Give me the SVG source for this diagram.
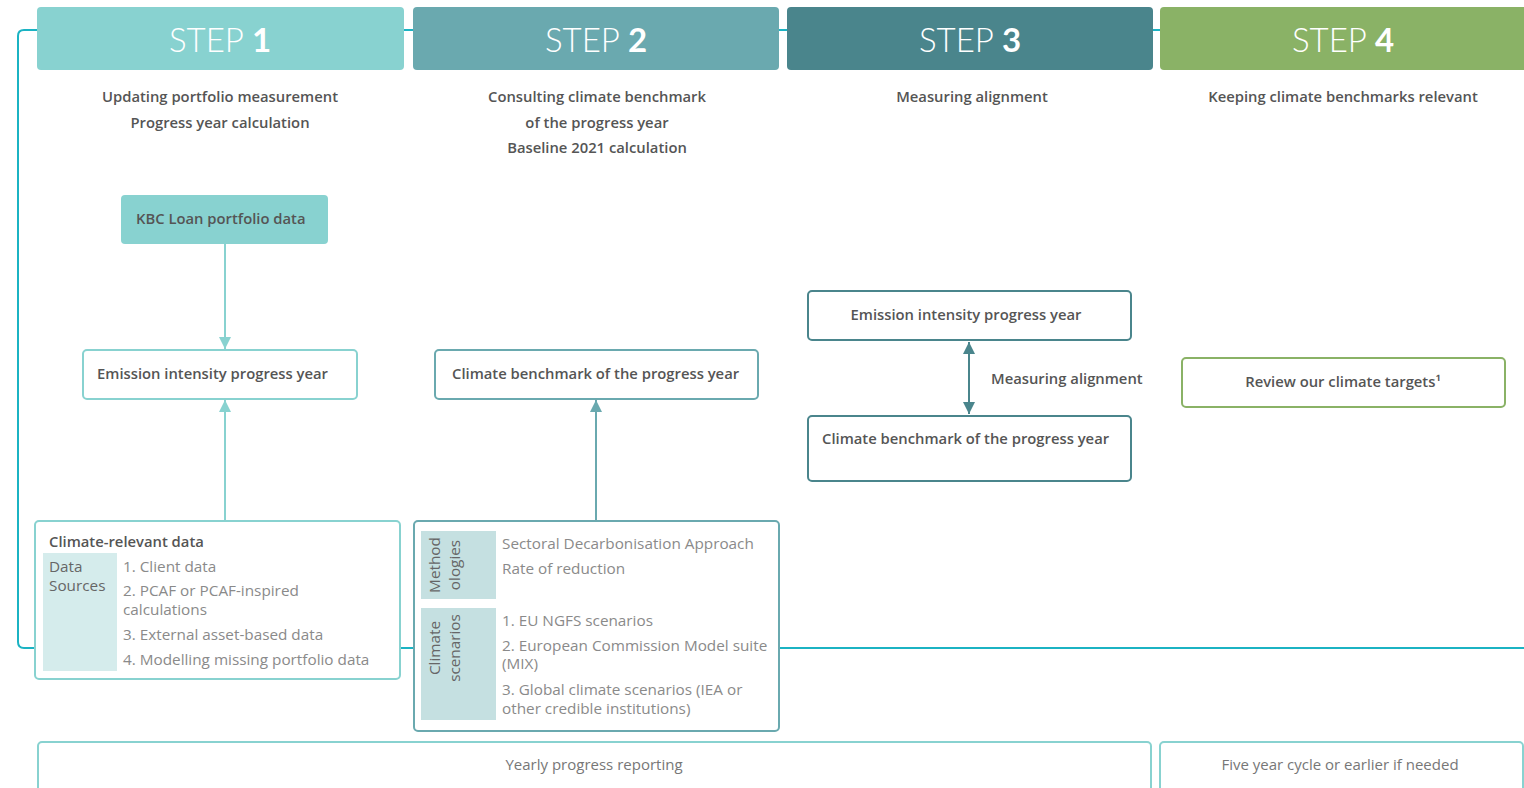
<svg xmlns="http://www.w3.org/2000/svg" width="1524" height="788" viewBox="0 0 1524 788">
<style>
.bg{fill:#ffffff}
.track{fill:none;stroke:#1BB3C3;stroke-width:2}
.hdr{font-family:Lato,"Open Sans",sans-serif;font-size:33px;fill:#ffffff;text-anchor:middle}
.hdr .l{font-weight:300}
.hdr .b{font-weight:700}
.sub{font-family:"Open Sans",Lato,sans-serif;font-size:14.8px;font-weight:600;fill:#555555;text-anchor:middle}
.lbl{font-family:"Open Sans",Lato,sans-serif;font-size:14.8px;font-weight:600;fill:#555555}
.item{font-family:"Open Sans",Lato,sans-serif;font-size:15.3px;font-weight:400;fill:#8a8a8a}
.side{font-family:"Open Sans",Lato,sans-serif;font-size:15.3px;font-weight:400;fill:#666666}
.foot{font-family:"Open Sans",Lato,sans-serif;font-size:15px;font-weight:400;fill:#777777;text-anchor:middle}
.b1{fill:#ffffff;stroke:#88D2D0;stroke-width:2}
.b2{fill:#ffffff;stroke:#6AA9AF;stroke-width:2}
.b3{fill:#ffffff;stroke:#4A858C;stroke-width:2}
.b4{fill:#ffffff;stroke:#8AB266;stroke-width:2}
</style>
<defs>
<marker id="a1" viewBox="0 0 10 10" refX="10" refY="5" markerWidth="6" markerHeight="6" markerUnits="strokeWidth" orient="auto"><path d="M0,0 L10,5 L0,10 z" fill="#88D2D0"/></marker>
<marker id="a2" viewBox="0 0 10 10" refX="10" refY="5" markerWidth="6" markerHeight="6" markerUnits="strokeWidth" orient="auto"><path d="M0,0 L10,5 L0,10 z" fill="#6AA9AF"/></marker>
<marker id="a3" viewBox="0 0 10 10" refX="10" refY="5" markerWidth="6" markerHeight="6" markerUnits="strokeWidth" orient="auto-start-reverse"><path d="M0,0 L10,5 L0,10 z" fill="#4A858C"/></marker>
</defs>
<rect class="bg" x="0" y="0" width="1524" height="788"/>
<g id="track">
<path class="track" d="M1524,30 L24,30 Q18,30 18,36 L18,642 Q18,648 24,648 L1524,648"/>
</g>

<g id="step1">
<rect x="37" y="7" width="367" height="63" rx="4" fill="#88D2D0"/>
<text class="hdr" x="220" y="52"><tspan class="l">STEP </tspan><tspan class="b">1</tspan></text>
<text class="sub" x="220" y="102">Updating portfolio measurement</text>
<text class="sub" x="220" y="128">Progress year calculation</text>
</g>
<g id="step2">
<rect x="413" y="7" width="366" height="63" rx="4" fill="#6AA9AF"/>
<text class="hdr" x="596" y="52"><tspan class="l">STEP </tspan><tspan class="b">2</tspan></text>
<text class="sub" x="597" y="102">Consulting climate benchmark</text>
<text class="sub" x="597" y="128">of the progress year</text>
<text class="sub" x="597" y="153">Baseline 2021 calculation</text>
</g>
<g id="step3">
<rect x="787" y="7" width="366" height="63" rx="4" fill="#4A858C"/>
<text class="hdr" x="970" y="52"><tspan class="l">STEP </tspan><tspan class="b">3</tspan></text>
<text class="sub" x="972" y="102">Measuring alignment</text>
</g>
<g id="step4">
<rect x="1160" y="7" width="370" height="63" rx="4" fill="#8AB266"/>
<text class="hdr" x="1343" y="52"><tspan class="l">STEP </tspan><tspan class="b">4</tspan></text>
<text class="sub" x="1343" y="102">Keeping climate benchmarks relevant</text>
</g>

<g id="connectors">
<line x1="225" y1="244" x2="225" y2="349" stroke="#88D2D0" stroke-width="2" marker-end="url(#a1)"/>
<line x1="225" y1="520" x2="225" y2="400" stroke="#88D2D0" stroke-width="2" marker-end="url(#a1)"/>
<line x1="596" y1="520" x2="596" y2="400" stroke="#6AA9AF" stroke-width="2" marker-end="url(#a2)"/>
<line x1="969" y1="342" x2="969" y2="414" stroke="#4A858C" stroke-width="2" marker-start="url(#a3)" marker-end="url(#a3)"/>
<text class="lbl" x="991" y="384">Measuring alignment</text>
</g>

<g id="kbc">
<rect x="121" y="195" width="207" height="49" rx="4" fill="#88D2D0"/>
<text class="lbl" x="136" y="224">KBC Loan portfolio data</text>
</g>
<g id="emission1">
<rect class="b1" x="83" y="350" width="274" height="49" rx="4"/>
<text class="lbl" x="97" y="379">Emission intensity progress year</text>
</g>
<g id="climatedata">
<rect class="b1" x="35" y="521" width="365" height="158" rx="4"/>
<text class="lbl" x="49" y="547">Climate-relevant data</text>
<rect x="43" y="553" width="74" height="118" fill="#D5ECEC"/>
<text class="side" x="49" y="572">Data</text>
<text class="side" x="49" y="591">Sources</text>
<text class="item" x="123" y="572">1. Client data</text>
<text class="item" x="123" y="596">2. PCAF or PCAF-inspired</text>
<text class="item" x="123" y="615">calculations</text>
<text class="item" x="123" y="640">3. External asset-based data</text>
<text class="item" x="123" y="665">4. Modelling missing portfolio data</text>
</g>
<g id="benchmark2">
<rect class="b2" x="435" y="350" width="323" height="49" rx="4"/>
<text class="lbl" x="452" y="379">Climate benchmark of the progress year</text>
</g>
<g id="methods">
<rect class="b2" x="414" y="521" width="365" height="210" rx="4"/>
<rect x="421" y="531" width="75" height="68" fill="#C5E0E1"/>
<text class="side" transform="translate(440,565) rotate(-90)" text-anchor="middle">Method</text>
<text class="side" transform="translate(460,565) rotate(-90)" text-anchor="middle">ologies</text>
<rect x="421" y="608" width="75" height="112" fill="#C5E0E1"/>
<text class="side" transform="translate(440,648) rotate(-90)" text-anchor="middle">Climate</text>
<text class="side" transform="translate(460,648) rotate(-90)" text-anchor="middle">scenarios</text>
<text class="item" x="502" y="549">Sectoral Decarbonisation Approach</text>
<text class="item" x="502" y="574">Rate of reduction</text>
<text class="item" x="502" y="626">1. EU NGFS scenarios</text>
<text class="item" x="502" y="651">2. European Commission Model suite</text>
<text class="item" x="502" y="669">(MIX)</text>
<text class="item" x="502" y="695">3. Global climate scenarios (IEA or</text>
<text class="item" x="502" y="714">other credible institutions)</text>
</g>
<g id="emission3">
<rect class="b3" x="808" y="291" width="323" height="49" rx="4"/>
<text class="lbl" x="966" y="320" text-anchor="middle">Emission intensity progress year</text>
</g>
<g id="benchmark3">
<rect class="b3" x="808" y="416" width="323" height="65" rx="4"/>
<text class="lbl" x="822" y="444">Climate benchmark of the progress year</text>
</g>
<g id="review">
<rect class="b4" x="1182" y="358" width="323" height="49" rx="4"/>
<text class="lbl" x="1343" y="387" text-anchor="middle">Review our climate targets¹</text>
</g>
<g id="yearly">
<rect class="b1" x="38" y="742" width="1113" height="70" rx="4"/>
<text class="foot" x="594" y="770">Yearly progress reporting</text>
</g>
<g id="fiveyear">
<rect class="b1" x="1160" y="742" width="363" height="70" rx="4"/>
<text class="foot" x="1340" y="770">Five year cycle or earlier if needed</text>
</g>
</svg>
